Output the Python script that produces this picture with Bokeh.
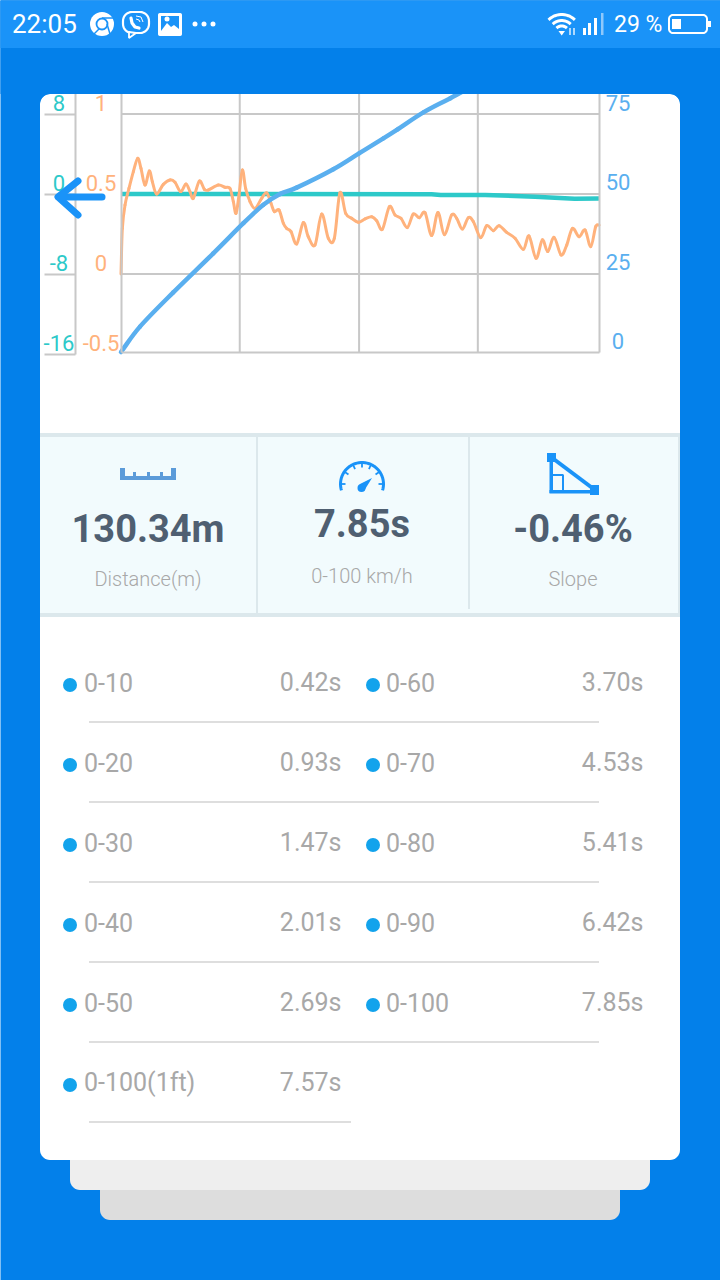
import numpy as np
from bokeh.core.properties import value
from bokeh.embed import file_html
from bokeh.models import FixedTicker, LinearAxis, Range1d
from bokeh.plotting import figure
from bokeh.resources import INLINE

# ---------- data ----------
time_ticks = [1.95, 3.91, 5.86]
time_end = 7.85

speed_t = [0, .312, .859, 1.516, 2.01, 2.338, 2.612, 2.885, 3.487, 3.909, 4.309,
           4.53, 4.966, 5.41, 6.42, 7.85]
speed_v = [0, 8.0, 18.8, 31.1, 40.6, 46.4, 49.8, 51.8, 57.6, 62.6, 67.3,
           70, 75.5, 80, 90, 100]

slope_t = [0, 5.1, 5.25, 5.98, 6.8, 7.45, 7.85]
slope_v = [0, -.02, -.1, -.1, -.27, -.47, -.46]

accel_t = [0, .022, .066, .131, .203, .274, .328, .394, .465, .515, .586, .695, .805, .887, .98, 1.067, 1.133,
           1.188, 1.286, 1.369, 1.434, 1.599, 1.708, 1.79, 1.845, 1.889, 1.938, 1.993, 2.047, 2.119, 2.201,
           2.31, 2.392, 2.463, 2.518, 2.595, 2.666, 2.721, 2.792, 2.885, 2.994, 3.076, 3.186, 3.295, 3.405,
           3.503, 3.596, 3.69, 3.788, 3.898, 4.007, 4.117, 4.199, 4.292, 4.407, 4.5, 4.598, 4.702, 4.801,
           4.899, 4.993, 5.102, 5.205, 5.31, 5.431, 5.513, 5.606, 5.704, 5.787, 5.907, 6.006, 6.115, 6.208,
           6.334, 6.471, 6.608, 6.701, 6.816, 6.92, 7.008, 7.112, 7.227, 7.32, 7.413, 7.523, 7.621, 7.714,
           7.796, 7.851]
accel_v = [0, .285, .431, .535, .64, .723, .66, .556, .644, .577, .5, .56, .588, .573, .515, .563, .515,
           .473, .581, .529, .525, .556, .542, .535, .452, .379, .494, .65, .535, .452, .41,
           .473, .508, .442, .39, .4, .317, .285, .265, .188, .321, .233, .181, .375, .223,
           .223, .508, .379, .348, .323, .344, .358, .333, .279, .421, .369, .348, .29, .375,
           .352, .383, .24, .385, .246, .369, .348, .281, .352, .327, .227, .302, .271, .302,
           .26, .223, .154, .238, .098, .213, .14, .229, .119, .181, .285, .233, .275, .171,
           .296, .306]

speed_ticks = [0, 25, 50, 75]
slope_ticks = [8, 0, -8, -16]
accel_ticks = [1, .5, 0, -.5]
accel_labels = ["1", "0.5", "0", "-0.5"]

stat_values = ["130.34m", "7.85s", "-0.46%"]
stat_names = ["Distance(m)", "0-100 km/h", "Slope"]

left_names = ["0-10", "0-20", "0-30", "0-40", "0-50", "0-100(1ft)"]
left_times = ["0.42s", "0.93s", "1.47s", "2.01s", "2.69s", "7.57s"]
right_names = ["0-60", "0-70", "0-80", "0-90", "0-100"]
right_times = ["3.70s", "4.53s", "5.41s", "6.42s", "7.85s"]

# ---------- colours ----------
BG, BAR, GRID = "#0380EA", "#1A93F8", "#C8C8C8"
TEAL, ORANGE, BLUE = "#2DC9C9", "#FFB27C", "#5AAFEF"
DARK, GREY, ICON = "#4F5F71", "#A8A8A8", "#1A93F8"
ROBOTO = value("Roboto")
LIGHT = value("Roboto Light, Roboto")

X0, X1, Y0, Y1 = .5, 720.5, 1280.5, .5
p = figure(width=720, height=1280, x_range=Range1d(X0, X1), y_range=Range1d(Y0, Y1),
           x_axis_type=None, y_axis_type=None, toolbar_location=None, output_backend="svg",
           min_border=0, outline_line_color=None, background_fill_color=BG, border_fill_color=BG)
p.grid.visible = False


def span(v0, px0, v1, px1, lo, hi):
    k = (v1 - v0) / (px1 - px0)
    return Range1d(start=v0 + (lo - px0) * k, end=v0 + (hi - px0) * k)


p.extra_x_ranges["time"] = span(0, 121, time_end, 599, X0, X1)
p.extra_y_ranges["speed"] = span(0, 352, 75, 114, Y0, Y1)
p.extra_y_ranges["slope"] = span(0, 194, 8, 114, Y0, Y1)
p.extra_y_ranges["accel"] = span(0, 274, 1, 114, Y0, Y1)


def rounded(x0, y0, x1, y1, r, top=True, bottom=True):
    xs, ys = [], []
    a = np.linspace(0, np.pi / 2, 9)
    for cx, cy, sx, sy, on, rev in [(x1, y0, 1, -1, top, True), (x1, y1, 1, 1, bottom, False),
                                    (x0, y1, -1, 1, bottom, True), (x0, y0, -1, -1, top, False)]:
        rr = r if on else 0
        aa = a[::-1] if not rev else a
        xs += list(cx - sx * rr + sx * rr * np.sin(aa))
        ys += list(cy - sy * rr + sy * rr * np.cos(aa))
    return xs, ys


def card(x0, y0, x1, y1, r, color, level="image", **kw):
    xs, ys = rounded(x0, y0, x1, y1, r, **kw)
    return p.patch(xs, ys, fill_color=color, line_color=None, level=level)


def txt(x, y, t, size, color, font=ROBOTO, align="left", style="normal", level="glyph", **kw):
    return p.text(x=x, y=y, text=t, text_font=font, text_font_size=size, text_color=color, text_align=align,
                  text_baseline="middle", text_font_style=style, level=level, **kw)


def smooth(t, v, **kw):
    """Draw a curve through the read points, as the original's smoothed line does."""
    t, v = np.array(t, float), np.array(v, float)
    dt = np.gradient(t, edge_order=1) * 2
    dv = np.gradient(v, edge_order=1) * 2
    p.bezier(x0=t[:-1], y0=v[:-1], x1=t[1:], y1=v[1:],
             cx0=t[:-1] + dt[:-1] / 6, cy0=v[:-1] + dv[:-1] / 6,
             cx1=t[1:] - dt[1:] / 6, cy1=v[1:] - dv[1:] / 6, line_cap="round", **kw)


# ---------- cards ----------
card(100, 1170, 620, 1220, 10, "#DDDDDD")
card(70, 1140, 650, 1190, 10, "#EEEEEE")
card(40, 94, 680, 1160, 10, "#FFFFFF")

# ---------- chart grid and axes ----------
for axis, side in [
    (LinearAxis(y_range_name="speed", fixed_location=599, bounds=(0, 82), ticker=FixedTicker(ticks=[])), "right"),
    (LinearAxis(y_range_name="accel", fixed_location=121, bounds=(-.4875, 1.2), ticker=FixedTicker(ticks=[])), "left"),
    (LinearAxis(y_range_name="slope", fixed_location=75, bounds=(-16, 12), ticker=FixedTicker(ticks=slope_ticks),
                major_tick_out=31, major_tick_in=0, major_tick_line_color=GRID, major_tick_line_width=2), "left"),
    (LinearAxis(x_range_name="time", fixed_location=352, bounds=(0, time_end), ticker=FixedTicker(ticks=[])), "below"),
]:
    axis.axis_line_color = GRID
    axis.axis_line_width = 2
    axis.minor_tick_line_color = None
    if not axis.ticker.ticks:
        axis.major_tick_line_color = None
    axis.major_label_text_color = None
    axis.major_label_text_font_size = "0px"
    p.add_layout(axis, side)

p.segment(x0=time_ticks, x1=time_ticks, y0=[-.4875] * 3, y1=[1.2] * 3, x_range_name="time", y_range_name="accel",
          line_color=GRID, line_width=2)
p.segment(x0=[0] * 3, x1=[time_end] * 3, y0=accel_ticks[:3], y1=accel_ticks[:3], x_range_name="time",
          y_range_name="accel", line_color=GRID, line_width=2)

# ---------- series ----------
p.line(slope_t, slope_v, x_range_name="time", y_range_name="slope", line_color=TEAL, line_width=4.5)
smooth(accel_t, accel_v, x_range_name="time", y_range_name="accel", line_color=ORANGE, line_width=3)
smooth(speed_t, speed_v, x_range_name="time", y_range_name="speed", line_color=BLUE, line_width=4.5)

# ---------- tick labels ----------
txt([59] * 4, slope_ticks, [str(v) for v in slope_ticks], "22px", TEAL, align="center", y_range_name="slope", y_offset=-11)
txt([101] * 4, accel_ticks, accel_labels, "22px", ORANGE, align="center", y_range_name="accel", y_offset=-11)
txt([618] * 4, speed_ticks, [str(v) for v in speed_ticks], "22px", BLUE, align="center", y_range_name="speed", y_offset=-11)

# ---------- panel ----------
p.quad(left=40, right=680, top=433, bottom=617, fill_color="#F2FBFD", line_color=None, level="image")
p.quad(left=[40, 40, 256, 468, 678], right=[680, 680, 258, 470, 680], top=[433, 613, 437, 437, 437],
       bottom=[437, 617, 613, 609, 613], fill_color="#DCE8EC", line_color=None, level="image")
txt([148, 362, 573], [529, 524, 529], stat_values, "38px", DARK, align="center", style="bold")
txt([148, 362, 573], [579, 575.5, 579], stat_names, "20px", GREY, font=LIGHT, align="center")

# ruler icon
p.quad(left=[120, 120, 171, 133, 147, 160], right=[176, 125, 176, 136, 150, 163],
       top=[476, 468, 468, 472, 472, 472], bottom=[480, 480, 480, 480, 480, 480],
       fill_color="#5B9BD9", line_color=None)

# gauge icon
ga = np.radians(np.linspace(-17, 197, 40))
p.line(362 + 21.5 * np.cos(ga), 484 - 21.5 * np.sin(ga), line_color=ICON, line_width=3)
tk = np.radians([0, 35, 65, 90, 115, 145, 180])
p.segment(362 + 21 * np.cos(tk), 484 - 21 * np.sin(tk), 362 + 16.5 * np.cos(tk), 484 - 16.5 * np.sin(tk),
          line_color=ICON, line_width=1.8)
p.patch([372, 364, 358.5, 360], [478, 491, 487, 484], fill_color=ICON, line_color=None)
p.scatter([361.5], [488], size=8, marker="circle", fill_color=ICON, line_color=None)

# slope icon
p.quad(left=[547, 590, 549.5, 549.5], right=[556, 599, 553, 595], top=[453, 485, 458, 490], bottom=[462, 495, 493, 493.5],
       fill_color=ICON, line_color=None)
p.line([551, 595], [457, 490], line_color=ICON, line_width=4)
p.multi_line([[552, 563, 563]], [[475, 475, 490]], line_color=ICON, line_width=2)

# ---------- table ----------
row = 80
yl = [682 + row * i for i in range(len(left_names))]
yr = [682 + row * i for i in range(len(right_names))]
txt([84] * len(yl), yl, left_names, "25px", GREY)
txt([341.5] * len(yl), yl, left_times, "25px", GREY, align="right")
txt([386] * len(yr), yr, right_names, "25px", GREY)
txt([643.5] * len(yr), yr, right_times, "25px", GREY, align="right")
p.scatter([70] * len(yl) + [373] * len(yr), [y + 3 for y in yl] + [y + 3 for y in yr], size=14, marker="circle",
          fill_color="#12A3EC", line_color=None)
ry = [y + 40 for y in yl]
p.segment(x0=[89] * len(ry), x1=[599] * 5 + [351], y0=ry, y1=ry, line_color="#BDBDBD", line_width=1)

# ---------- mask above the card ----------
p.quad(left=X0, right=X1, top=Y1, bottom=94, fill_color=BG, line_color=None, level="overlay")
ca = np.linspace(0, np.pi / 2, 9)
p.patch(list(40 + 10 - 10 * np.sin(ca)) + [40], list(94 + 10 - 10 * np.cos(ca)) + [94], fill_color=BG, line_color=None, level="overlay")
p.patch(list(680 - 10 + 10 * np.sin(ca)) + [680], list(94 + 10 - 10 * np.cos(ca)) + [94], fill_color=BG, line_color=None, level="overlay")

# back arrow
p.multi_line([[78, 58, 78], [60, 102]], [[181, 197, 215], [197, 197]], line_color=BAR, line_width=7,
             line_cap="round", line_join="round", level="overlay")

# ---------- status bar ----------
W = "#FFFFFF"
O = {"level": "overlay"}
p.quad(left=X0, right=X1, top=Y1, bottom=48, fill_color=BAR, line_color=None, **O)
txt([12], [24], ["22:05"], "26px", W, level="overlay")
txt([614], [24], ["29 %"], "23px", W, level="overlay")
# chrome
p.scatter([102], [24], size=24, marker="circle", fill_color=W, line_color=None, **O)
p.scatter([102], [24], size=11, marker="circle", fill_color=W, line_color=BAR, line_width=1.8, **O)
p.segment([102, 107, 99], [18, 24, 29], [113, 110, 94], [18, 34, 34], line_color=BAR, line_width=1.5, **O)
# viber
vx, vy = rounded(123, 12, 149, 33, 9)
p.patch(vx, vy, fill_color=None, line_color=W, line_width=2.2, **O)
p.patch([129, 129, 136], [32, 38, 33], fill_color=BAR, line_color=W, line_width=1.8, **O)
p.line([131, 132, 135, 139], [18, 23, 27, 28], line_color=W, line_width=3.2, line_cap="round", **O)
p.multi_line([[136, 141, 143], [136, 139, 140]], [[16, 17, 22], [19, 20, 22]], line_color=W, line_width=1, **O)
# picture
ix, iy = rounded(158, 13, 182, 36, 2)
p.patch(ix, iy, fill_color=W, line_color=None, **O)
p.quad(left=161, right=179, top=16, bottom=31, fill_color=BAR, line_color=None, **O)
p.patch([161, 167, 171, 174, 179, 179, 161], [31, 23, 27, 25, 29, 33, 33], fill_color=W, line_color=None, **O)
p.scatter([167], [19], size=5, marker="circle", fill_color=W, line_color=None, **O)
# dots
p.scatter([195, 204, 213], [24, 24, 24], size=5, marker="circle", fill_color=W, line_color=None, **O)
# wifi
for r in (19, 13, 7.5):
    a = np.radians(np.linspace(46, 134, 16))
    p.line(561.7 + r * np.cos(a), 33.5 - r * np.sin(a), line_color=W, line_width=3, **O)
p.patch([558.5, 565, 561.7], [31, 31, 35.5], fill_color=W, line_color=None, **O)
p.multi_line([[570, 570], [574, 574]], [[28, 35], [28, 35]], line_color=W, line_width=1.3, **O)
# signal
p.quad(left=[583, 588, 594], right=[586, 591, 597], top=[28, 23, 18], bottom=[35, 35, 35], fill_color=W, line_color=None, **O)
p.quad(left=[601], right=[603.5], top=[13], bottom=[35], fill_color="#8FC8FB", line_color=None, **O)
# battery
bx, by = rounded(669, 15, 707, 33, 4)
p.patch(bx, by, fill_color=None, line_color=W, line_width=2, **O)
p.quad(left=[672, 708], right=[681, 711], top=[19, 21], bottom=[29, 27], fill_color=W, line_color=None, **O)

open("out.html", "w").write(file_html(p, INLINE))
